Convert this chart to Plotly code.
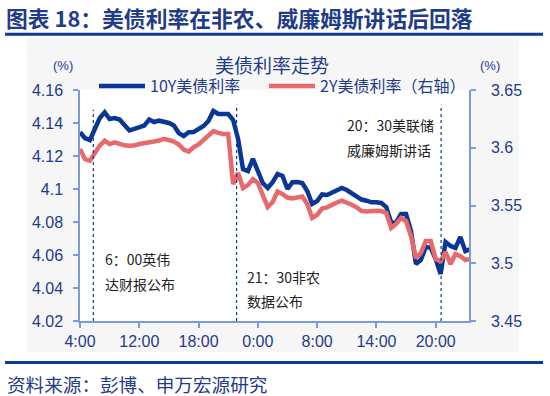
import plotly.graph_objects as go

# ---------------- data ----------------
tick_labels = ["4:00", "12:00", "18:00", "0:00", "8:00", "14:00", "20:00"]
points_per_tick = 12

y10 = [4.1344, 4.1309, 4.1297, 4.1364, 4.1430, 4.1465, 4.1424, 4.1430, 4.1421, 4.1388,
       4.1355, 4.1364, 4.1373, 4.1384, 4.1421, 4.1406, 4.1414, 4.1409, 4.1400, 4.1385,
       4.1339, 4.1321, 4.1344, 4.1345, 4.1361, 4.1382, 4.1412, 4.1473, 4.1455, 4.1455,
       4.1455, 4.1418, 4.1303, 4.1121, 4.1109, 4.1182, 4.1109, 4.1036, 4.1006, 4.1042,
       4.1091, 4.1079, 4.1000, 4.1041, 4.1042, 4.1036, 4.0988, 4.0909, 4.0927, 4.0967,
       4.0964, 4.0980, 4.0991, 4.1006, 4.0994, 4.0976, 4.0961, 4.0936, 4.0929, 4.0919,
       4.0919, 4.0915, 4.0891, 4.0794, 4.0797, 4.0849, 4.0849, 4.0746, 4.0546, 4.0570,
       4.0649, 4.0643, 4.0576, 4.0485, 4.0679, 4.0655, 4.0643, 4.0709, 4.0624, 4.0636]

y2 = [3.5989, 3.5902, 3.5888, 3.5954, 3.6019, 3.6061, 3.6032, 3.6047, 3.6032, 3.6021,
      3.6018, 3.6019, 3.6032, 3.6037, 3.6048, 3.6054, 3.6063, 3.6076, 3.6067, 3.6054,
      3.6028, 3.5985, 3.5967, 3.6004, 3.6028, 3.6063, 3.6110, 3.6145, 3.6129, 3.6119,
      3.6119, 3.5686, 3.5781, 3.5651, 3.5677, 3.5729, 3.5695, 3.5599, 3.5487, 3.5530,
      3.5621, 3.5599, 3.5569, 3.5560, 3.5573, 3.5578, 3.5513, 3.5392, 3.5418, 3.5474,
      3.5484, 3.5507, 3.5526, 3.5541, 3.5526, 3.5507, 3.5484, 3.5452, 3.5448, 3.5455,
      3.5455, 3.5452, 3.5435, 3.5305, 3.5340, 3.5392, 3.5366, 3.5236, 3.5045, 3.5088,
      3.5192, 3.5192, 3.5036, 3.5019, 3.5097, 3.4993, 3.5080, 3.5062, 3.5028, 3.5036]

x_idx = list(range(len(y10)))

event_idx = [2.7, 31.7, 73.1]
event_top = [4.148, 4.151, 4.151]

left_ticks = [4.02, 4.04, 4.06, 4.08, 4.10, 4.12, 4.14, 4.16]
left_text = ["4.02", "4.04", "4.06", "4.08", "4.1", "4.12", "4.14", "4.16"]
right_ticks = [3.45, 3.50, 3.55, 3.60, 3.65]
right_text = ["3.45", "3.5", "3.55", "3.6", "3.65"]

# ---------------- layout geometry ----------------
W, H = 550, 396
ML, MR, MT, MB = 80, 81, 90, 75
PW = W - ML - MR
PH = H - MT - MB


def px(xp):
    return (xp - ML) / PW


def py(yp):
    return (H - MB - yp) / PH


NAVY = "#0B3A94"
TXT_BLUE = "#1F3C88"
AXIS = "#7B9BDB"
BLUE = "#0A3696"
RED = "#E8696B"
FONT = "Liberation Sans, Arial, Noto Sans CJK SC, sans-serif"
CJK = "Noto Sans CJK SC, Liberation Sans, sans-serif"

fig = go.Figure()
fig.add_trace(go.Scatter(x=x_idx, y=y10, mode="lines", name="10Y美债利率",
                         line=dict(color=BLUE, width=4.5), yaxis="y", legend="legend"))
fig.add_trace(go.Scatter(x=x_idx, y=y2, mode="lines", name="2Y美债利率（右轴）",
                         line=dict(color=RED, width=4.5), yaxis="y2", legend="legend2"))

shapes = [
    # gray chart background
    dict(type="rect", xref="paper", yref="paper", x0=px(27), x1=px(519), y0=py(352), y1=py(37),
         fillcolor="#F6F6F6", line=dict(width=0), layer="below"),
    dict(type="rect", xref="paper", yref="paper", x0=0, x1=1, y0=0, y1=1,
         fillcolor="white", line=dict(width=0), layer="below"),
    # top and bottom rules
    dict(type="line", xref="paper", yref="paper", x0=px(5), x1=px(543), y0=py(34.3), y1=py(34.3),
         line=dict(color=NAVY, width=3)),
    dict(type="line", xref="paper", yref="paper", x0=px(5), x1=px(543), y0=py(362.5), y1=py(362.5),
         line=dict(color=NAVY, width=3)),
]
for ex, et in zip(event_idx, event_top):
    shapes.append(dict(type="line", xref="x", yref="y", x0=ex, x1=ex, y0=4.02, y1=et,
                       line=dict(color=NAVY, width=1.2, dash="3px,3px")))

annotations = [
    dict(text="<b>图表 18：美债利率在非农、威廉姆斯讲话后回落</b>", xref="paper", yref="paper",
         x=px(4), y=py(18), xanchor="left", yanchor="middle", showarrow=False,
         font=dict(family=CJK, size=21.8, color=TXT_BLUE)),
    dict(text="美债利率走势", xref="paper", yref="paper", x=px(272), y=py(64),
         xanchor="center", yanchor="middle", showarrow=False,
         font=dict(family=CJK, size=19, color=TXT_BLUE)),
    dict(text="(%)", xref="paper", yref="paper", x=px(63), y=py(65),
         xanchor="center", yanchor="middle", showarrow=False,
         font=dict(family=FONT, size=13, color=TXT_BLUE)),
    dict(text="(%)", xref="paper", yref="paper", x=px(490), y=py(65),
         xanchor="center", yanchor="middle", showarrow=False,
         font=dict(family=FONT, size=13, color=TXT_BLUE)),
    dict(text="资料来源：彭博、申万宏源研究", xref="paper", yref="paper", x=px(5), y=py(383),
         xanchor="left", yanchor="middle", showarrow=False,
         font=dict(family=CJK, size=18.6, color=TXT_BLUE)),
]
notes = [
    ("6：00英伟", 103, 259), ("达财报公布", 103, 284),
    ("21：30非农", 245, 277), ("数据公布", 245, 301),
    ("20：30美联储", 345, 125), ("威廉姆斯讲话", 345, 150),
]
for t, xx, yy in notes:
    annotations.append(dict(text=t, xref="paper", yref="paper", x=px(xx), y=py(yy),
                            xanchor="left", yanchor="middle", showarrow=False,
                            font=dict(family=CJK, size=14, color="#222222")))

axis_common = dict(showline=True, linecolor=AXIS, linewidth=1.5, ticks="outside",
                   ticklen=5, tickcolor=AXIS, tickwidth=1.5, showgrid=False, zeroline=False,
                   tickfont=dict(family=FONT, size=16, color=TXT_BLUE))

legend_common = dict(orientation="h", xanchor="left", yanchor="middle",
                     bgcolor="rgba(0,0,0,0)", font=dict(family=CJK, size=16, color=TXT_BLUE),
                     itemwidth=46)

fig.update_layout(
    width=W, height=H,
    margin=dict(l=ML, r=MR, t=MT, b=MB, pad=0, autoexpand=False),
    paper_bgcolor="white", plot_bgcolor="rgba(0,0,0,0)",
    font=dict(family=CJK, color=TXT_BLUE),
    shapes=shapes, annotations=annotations,
    showlegend=True,
    legend=dict(x=px(94), y=py(86), **legend_common),
    legend2=dict(x=px(264), y=py(86), **legend_common),
    xaxis=dict(range=[0, PW / (4.94)], tickvals=[i * points_per_tick for i in range(len(tick_labels))],
               ticktext=tick_labels, ticklabelstandoff=0, **axis_common),
    yaxis=dict(range=[4.02, 4.16], tickvals=left_ticks, ticktext=left_text,
               ticklabelstandoff=7, **axis_common),
    yaxis2=dict(range=[3.45, 3.65], tickvals=right_ticks, ticktext=right_text, overlaying="y",
                side="right", anchor="x", ticklabelstandoff=12, **axis_common),
)

fig.write_html("out.html", config={"displayModeBar": False},
               post_script="document.body.style.margin='0';document.body.style.overflow='hidden';")
